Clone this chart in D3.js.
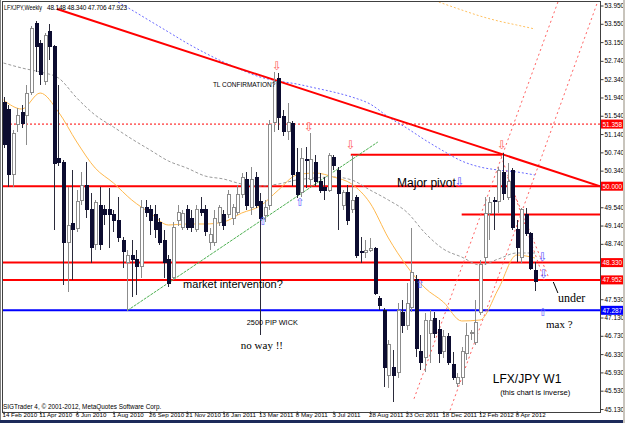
<!DOCTYPE html>
<html>
<head>
<meta charset="utf-8">
<script src="https://cdn.jsdelivr.net/npm/d3@7/dist/d3.min.js"></script>
<style>
  body { margin: 0; background: #fff; }
  svg { display: block; font-family: "Liberation Sans", Arial, sans-serif; }
</style>
</head>
<body>
<svg id="chart" width="625" height="423"></svg>
<script>
// weekly LFX/JPY candles (bar 0 = week of 14 Feb 2010)
const opens = [51.819,51.666,50.245,51.338,51.622,51.556,52.059,53.567,53.130,52.278,53.371,53.043,50.616,50.529,48.780,49.174,49.086,49.698,50.026,49.480,
  48.715,49.589,49.480,49.480,49.371,49.261,48.824,48.343,48.496,48.387,48.234,49.524,49.480,49.371,49.217,48.824,48.387,48.015,49.261,49.108,
  49.480,49.305,49.043,49.480,49.480,48.759,48.759,49.196,49.371,49.371,49.305,49.436,49.808,50.136,49.545,50.180,49.655,49.349,49.589,51.403,
  52.365,51.513,51.185,51.381,50.310,49.873,50.594,50.136,50.529,50.092,49.961,49.917,50.638,50.354,49.589,49.873,49.480,49.764,48.562,48.540,
  48.605,48.649,47.556,47.294,45.873,46.048,45.917,47.229,46.966,47.338,47.950,46.376,46.245,46.791,47.119,46.857,46.376,46.704,46.092,45.698,
  45.808,46.354,46.791,46.594,47.250,48.452,49.414,49.698,49.655,50.310,49.764,50.354,49.043,48.452,49.371,48.977,48.148];
const highs = [51.950,51.775,51.228,51.709,51.775,52.212,53.502,53.611,53.196,53.349,53.545,53.086,52.212,50.573,49.982,50.354,49.917,50.310,50.529,49.851,
  49.698,49.982,49.589,49.961,49.480,49.764,48.890,48.605,48.824,48.605,49.698,49.698,49.589,49.589,49.305,49.043,48.496,49.217,49.589,49.480,
  49.589,49.480,49.589,49.764,49.589,49.086,49.480,49.589,49.480,49.917,49.611,50.026,50.289,50.310,50.420,50.310,49.851,49.698,51.447,52.496,
  52.474,51.666,51.819,51.425,50.835,50.835,50.857,51.163,50.682,50.289,50.201,50.726,50.682,50.420,49.917,50.026,50.682,49.808,48.890,48.824,
  48.868,48.671,47.600,47.338,46.638,46.420,47.447,47.513,47.884,49.086,48.059,46.747,47.229,47.294,47.250,47.075,46.857,46.791,46.376,45.917,
  46.485,47.010,46.857,47.513,48.387,49.764,49.764,49.764,50.420,50.726,50.507,50.398,49.261,49.524,49.524,48.999,48.340];
const lows = [50.835,49.982,49.982,51.185,51.272,50.901,51.993,52.496,52.212,52.212,52.759,49.043,50.442,47.840,47.687,47.950,48.999,49.589,49.305,48.321,
  48.605,48.605,49.152,48.649,48.999,48.780,48.212,47.272,47.578,47.621,47.993,49.327,48.934,48.868,48.715,47.993,47.796,47.950,49.130,49.043,
  49.043,48.999,48.999,49.349,48.912,48.605,48.693,49.130,49.043,49.305,49.152,49.371,49.742,49.480,49.371,49.524,46.747,49.217,49.480,51.185,
  51.228,51.097,51.010,50.004,49.742,49.764,49.961,50.026,50.004,49.851,49.698,49.873,50.354,49.043,49.480,49.152,49.414,48.431,48.321,48.431,
  48.562,47.621,47.294,45.611,45.589,45.283,45.808,46.791,46.857,47.250,46.267,45.983,45.939,46.136,46.682,46.136,46.245,46.092,45.764,45.611,
  45.655,46.201,46.638,46.529,47.185,48.278,48.824,49.043,49.414,49.698,49.698,49.043,48.343,48.321,48.912,48.168,47.706];
const closes = [50.901,50.245,51.163,51.556,51.381,52.037,53.458,53.043,52.431,53.305,53.043,50.507,50.529,48.780,49.152,49.043,49.655,50.026,49.480,48.671,
  49.633,48.715,49.371,49.371,49.261,48.868,48.562,48.496,48.387,48.234,49.524,49.436,49.261,49.043,48.780,48.343,47.884,49.108,49.436,49.414,
  49.108,49.108,49.480,49.436,48.999,48.934,49.305,49.524,49.152,49.808,49.524,49.808,50.180,49.589,50.136,49.589,49.305,49.545,51.338,52.278,
  51.491,51.185,51.403,50.245,49.808,50.616,50.551,50.573,50.092,49.917,49.917,50.682,50.463,49.851,49.873,49.261,49.698,48.496,48.540,48.605,
  48.649,47.665,47.403,46.048,46.529,45.873,47.294,46.966,47.447,48.124,46.463,46.136,47.075,47.075,46.791,46.354,46.704,46.157,45.808,45.808,
  46.376,46.747,46.813,47.010,48.278,49.414,49.633,49.655,50.354,49.851,50.092,49.108,48.671,49.480,48.977,48.212,47.923];

// x axis labels, one every 8 bars
const dateLabels = ["14 Feb 2010","11 Apr 2010","6 Jun 2010","1 Aug 2010","26 Sep 2010","21 Nov 2010","16 Jan 2011",
  "13 Mar 2011","8 May 2011","3 Jul 2011","28 Aug 2011","23 Oct 2011","18 Dec 2011","12 Feb 2012","8 Apr 2012"];
const priceTicks = [45.13,45.53,45.93,46.33,46.73,47.13,47.53,48.74,49.14,49.54,50.34,50.74,51.14,51.54,51.94,52.34,52.74,53.15,53.55,53.95];

// moving averages sampled every 4 bars
const maBars = [0,4,8,12,16,20,24,28,32,36,40,44,48,52,56,60,64,68,72,76,80,84,88,92,96,100,104,108,112,116];
const maFast = [51.884,51.687,52.037,51.622,50.966,50.398,50.070,49.698,49.414,49.152,49.174,49.174,49.217,49.414,49.567,49.917,50.245,50.289,50.201,50.048,
  49.633,48.868,48.256,47.775,47.469,47.054,47.075,47.753,48.496,48.431];
const maMid = [52.693,52.584,52.496,52.365,51.928,51.556,51.294,51.032,50.791,50.551,50.398,50.223,50.158,50.048,50.004,50.048,50.136,50.180,50.201,50.136,
  49.917,49.698,49.436,48.977,48.627,48.452,48.278,48.409,48.540,48.540];
const slowBars = [25,28,32,36,40,44,48,52,56,60,64,68,72,76,80,84,88,92,96,100,104,108,112,116];
const maSlow = [54.026,53.852,53.611,53.371,53.130,52.912,52.715,52.540,52.387,52.300,52.234,52.147,52.059,51.950,51.797,51.513,51.272,51.010,50.770,50.551,
  50.420,50.354,50.311,50.245];
const envBars = [95,100,104,108,112,116];
const envUpper = [54.026,53.852,53.720,53.611,53.524,53.436];

// horizontal levels with price labels
const levelValues = [51.358, 50.000, 48.330, 47.952, 47.287];
const levelColors = ["#ff0000", "#ff0000", "#ff0000", "#ff0000", "#0000ff"];
const levelDashed = [true, false, false, false, false];

// drawn objects, in [bar, price]
const trendMain = [[11.67, 53.873], [130.2, 50.0]];
const trendGreen = [[27, 47.28], [81.7, 50.966]];
const segPivotTop = [[75.8, 50.69], [108.8, 50.69]];
const segPivotMid = [[100, 49.38], [130.2, 49.38]];
const channels = [
  [[121.0, 54.026], [89.4, 45.3]],
  [[129.5, 53.983], [97.4, 45.086]],
  [[108.6, 50.66], [118.0, 47.95]],
  [[110.0, 50.20], [119.0, 48.0]]
];
const arrowsDown = [[59.7, 52.627, "#ff6060"], [66.7, 51.294, "#ff6060"], [75.8, 50.901, "#ff6060"], [108.8, 50.901, "#ff6060"],
  [99.6, 50.092, "#5a5aff"], [117.7, 48.452, "#5a5aff"], [117.9, 48.081, "#5a5aff"]];
const arrowsUp = [[56.6, 49.239], [64.7, 49.633], [90.9, 47.862], [117.7, 47.25]];
const notes = [
  {t: "TL CONFIRMATION?", b: 45.7, p: 52.17, size: 6.5, serif: false},
  {t: "Major pivot", b: 85.9, p: 49.98, size: 12, serif: false},
  {t: "market intervention?", b: 39.2, p: 47.775, size: 11, serif: false},
  {t: "2500 PIP WICK", b: 53.1, p: 46.97, size: 7.3, serif: false},
  {t: "no way !!", b: 51.8, p: 46.44, size: 11, serif: true},
  {t: "under", b: 121.0, p: 47.47, size: 12, serif: true},
  {t: "max ?", b: 118.4, p: 46.90, size: 11, serif: true},
  {t: "LFX/JPY W1", b: 106.8, p: 45.70, size: 12, serif: false},
  {t: "(this chart is inverse)", b: 108.4, p: 45.44, size: 7.6, serif: false}
];

const svg = d3.select("#chart");
const plot = { left: 2, top: 1, right: 600, bottom: 411.5 };

const x = d3.scaleLinear().domain([0, 116]).range([3.5, 535]);
const y = d3.scaleLinear().domain([45.13, 53.95]).range([409, 5.5]);

svg.append("defs").append("clipPath").attr("id", "clip")
  .append("rect").attr("x", plot.left).attr("y", plot.top)
  .attr("width", plot.right - plot.left).attr("height", plot.bottom - plot.top);

svg.append("rect").attr("width", 625).attr("height", 423).attr("fill", "#fff");

const g = svg.append("g").attr("clip-path", "url(#clip)");

// level lines
levelValues.forEach((v, k) => {
  g.append("line")
    .attr("x1", plot.left).attr("x2", plot.right)
    .attr("y1", y(v)).attr("y2", y(v))
    .attr("stroke", levelColors[k])
    .attr("stroke-width", levelDashed[k] ? 1 : 2)
    .attr("stroke-dasharray", levelDashed[k] ? "2,2" : null);
});

const line = d3.line().x(d => x(d[0])).y(d => y(d[1]));
const seg = (pts, color, w, dash) => g.append("path").attr("d", line(pts)).attr("fill", "none")
  .attr("stroke", color).attr("stroke-width", w).attr("stroke-dasharray", dash);

seg(segPivotTop, "#ff0000", 2);
seg(segPivotMid, "#ff0000", 2);
channels.forEach(c => seg(c, "#ff6060", 1, "2,3"));
seg(trendGreen, "#4caf50", 1, "3,1");

// moving averages
const curve = d3.line().x(d => x(d[0])).y(d => y(d[1])).curve(d3.curveMonotoneX);
g.append("path").attr("d", curve(maBars.map((b, k) => [b, maMid[k]])))
  .attr("fill", "none").attr("stroke", "#9a9a9a").attr("stroke-dasharray", "3,2");
g.append("path").attr("d", curve(slowBars.map((b, k) => [b, maSlow[k]])))
  .attr("fill", "none").attr("stroke", "#6a6aff").attr("stroke-dasharray", "2,2");
g.append("path").attr("d", curve(envBars.map((b, k) => [b, envUpper[k]])))
  .attr("fill", "none").attr("stroke", "#ffc060").attr("stroke-dasharray", "2,2");
g.append("path").attr("d", curve(maBars.map((b, k) => [b, maFast[k]])))
  .attr("fill", "none").attr("stroke", "#ffb84d").attr("stroke-width", 1);

seg(trendMain, "#ff0000", 2);

// candles
const idx = d3.range(opens.length);
const candle = g.append("g").attr("shape-rendering", "crispEdges");
idx.forEach(i => {
  const cx = Math.round(x(i)) + 0.5;
  const up = closes[i] >= opens[i];
  candle.append("line")
    .attr("x1", cx).attr("x2", cx)
    .attr("y1", y(highs[i])).attr("y2", y(lows[i]))
    .attr("stroke", up ? "#8c8c8c" : "#2a2a3a");
  const top = y(Math.max(opens[i], closes[i]));
  const bot = y(Math.min(opens[i], closes[i]));
  candle.append("rect")
    .attr("x", cx - 1.5).attr("y", top)
    .attr("width", 3).attr("height", Math.max(1, bot - top))
    .attr("fill", up ? "#ffffff" : "#0c0c30")
    .attr("stroke", up ? "#8c8c8c" : "#0c0c30");
});

// arrows
arrowsDown.forEach(a => g.append("text").text("\u21e9")
  .attr("x", x(a[0])).attr("y", y(a[1])).attr("text-anchor", "middle").attr("dominant-baseline", "central")
  .attr("font-family", "DejaVu Sans").attr("font-size", 12).attr("fill", a[2]));
arrowsUp.forEach(a => g.append("text").text("\u21e7")
  .attr("x", x(a[0])).attr("y", y(a[1])).attr("text-anchor", "middle").attr("dominant-baseline", "central")
  .attr("font-family", "DejaVu Sans").attr("font-size", 11).attr("fill", "#5a5aff"));

// notes
notes.forEach(n => g.append("text").text(n.t)
  .attr("x", x(n.b)).attr("y", y(n.p))
  .attr("font-family", n.serif ? "Liberation Serif" : "Liberation Sans")
  .attr("font-size", n.size).attr("fill", "#000"));
g.append("path").attr("d", line([[120.0, 47.906], [121.0, 47.665]])).attr("stroke", "#000").attr("fill", "none");

// title and copyright
const title = svg.append("g").attr("font-size", 6.5).attr("fill", "#000");
title.append("text").attr("x", 4).attr("y", 9.5).attr("textLength", 38).attr("lengthAdjust", "spacingAndGlyphs").text("LFXJPY,Weekly");
title.append("text").attr("x", 47).attr("y", 9.5).attr("textLength", 80).attr("lengthAdjust", "spacing").text("48.148 48.340 47.706 47.923");
svg.append("text").attr("x", 3).attr("y", 409).attr("font-size", 6.4).attr("fill", "#000")
  .text("SIGTrader 4, \u00a9 2001-2012, MetaQuotes Software Corp.");

// frame
svg.append("rect").attr("x", plot.left + 0.5).attr("y", plot.top + 0.5)
  .attr("width", plot.right - plot.left).attr("height", plot.bottom - plot.top)
  .attr("fill", "none").attr("stroke", "#404040").attr("shape-rendering", "crispEdges");

// price axis
const yAxis = svg.append("g").attr("transform", `translate(${plot.right + 0.5},0)`)
  .call(d3.axisRight(y).tickValues(priceTicks).tickSize(3).tickPadding(1).tickFormat(d3.format(".3f")));
yAxis.select(".domain").remove();
yAxis.selectAll("text").attr("font-size", 6.4).attr("font-family", "Liberation Sans").attr("fill", "#000");
yAxis.selectAll("line").attr("stroke", "#404040");

const boxes = svg.append("g");
levelValues.forEach((v, k) => {
  boxes.append("rect").attr("x", plot.right + 1).attr("y", y(v) - 4.5).attr("width", 22).attr("height", 9)
    .attr("fill", levelColors[k]);
  boxes.append("text").attr("x", plot.right + 2.5).attr("y", y(v)).attr("dominant-baseline", "central")
    .attr("font-size", 6.4).attr("fill", "#fff").text(d3.format(".3f")(v));
});

// time axis
const xAxis = svg.append("g").attr("transform", `translate(0,${plot.bottom})`)
  .call(d3.axisBottom(x).tickValues(dateLabels.map((d, k) => k * 8)).tickSize(3).tickFormat((d, k) => dateLabels[k]));
xAxis.select(".domain").remove();
xAxis.selectAll("text").attr("font-size", 6.2).attr("font-family", "Liberation Sans")
  .attr("text-anchor", "start").attr("dx", -1.5).attr("dy", "-0.1em").attr("fill", "#000");
xAxis.selectAll("line").attr("stroke", "#404040");

// window edges
svg.append("rect").attr("x", 0).attr("y", 420).attr("width", 625).attr("height", 3).attr("fill", "#1c2a5a");
svg.append("rect").attr("x", 623).attr("y", 0).attr("width", 2).attr("height", 423).attr("fill", "#c8c4bc");
svg.append("line").attr("x1", 0.5).attr("x2", 0.5).attr("y1", 0).attr("y2", 420).attr("stroke", "#808080");
</script>
</body>
</html>
